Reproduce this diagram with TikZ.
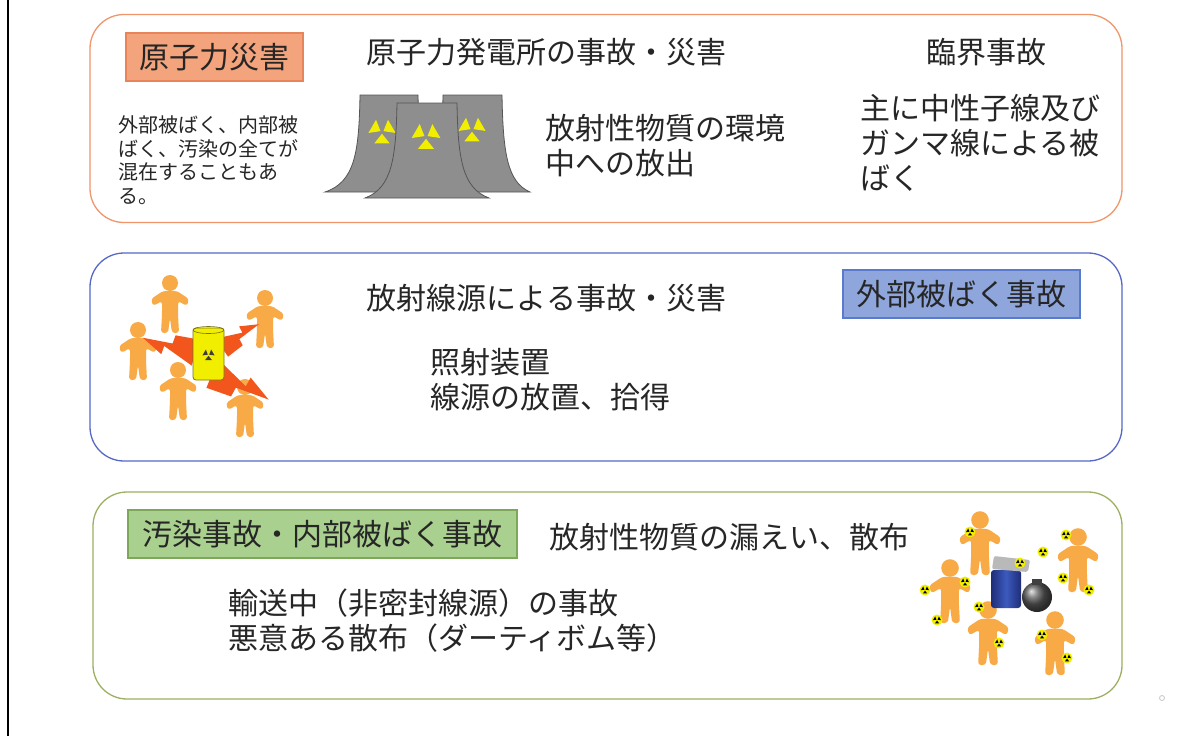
\documentclass[tikz,border=0pt]{standalone}
\usepackage{fontspec}
\setmainfont{Noto Sans CJK JP}
\usetikzlibrary{calc}

\definecolor{ink}{HTML}{262626}
\definecolor{nucline}{HTML}{F0966A}
\definecolor{srcline}{HTML}{5568C8}
\definecolor{conline}{HTML}{9DB060}
\definecolor{nucfill}{HTML}{F4A47C}
\definecolor{nucedge}{HTML}{E8845A}
\definecolor{extfill}{HTML}{8FA6DC}
\definecolor{extedge}{HTML}{5A7ACD}
\definecolor{intfill}{HTML}{A9D08E}
\definecolor{intedge}{HTML}{7DA85A}
\definecolor{towergray}{HTML}{8E8E8E}
\definecolor{toweredge}{HTML}{555555}
\definecolor{radyellow}{HTML}{F2EE00}
\definecolor{skin}{HTML}{F7AA46}
\definecolor{boltred}{HTML}{F2561C}
\definecolor{canblue}{RGB}{30,45,120}
\definecolor{canlight}{RGB}{60,90,190}

% cooling tower: left x, right x, top y, bottom y, flare
\newcommand\coolingtower[5]{%
  \filldraw[fill=towergray, draw=toweredge, line width=0.8pt]
    (#1,#3) -- (#2,#3) .. controls (#2+1,#4-40) and (#2+5,#4-10) .. (#2+#5,#4)
    -- (#1-#5,#4) .. controls (#1-5,#4-10) and (#1-1,#4-40) .. cycle;}

\tikzset{
  panel/.style={draw=#1, line width=1.3pt, rounded corners=34pt, inner sep=0pt,
                minimum width=1032pt, minimum height=208pt},
  tagbox/.style 2 args={fill=#1, draw=#2, line width=1.2pt, inner sep=0pt,
                minimum height=48pt, text=ink, font=\fontsize{30}{35}\selectfont},
  big/.style={inner sep=0pt, text=ink, font=\fontsize{30}{35}\selectfont, align=left},
  small/.style={inner sep=0pt, text=ink, font=\fontsize{20}{23.5}\selectfont, align=left},
  pics/trefoil/.style={code={
    \foreach \a in {90,210,330}{\fill[#1] (\a:2) -- (\a-34:16) -- (\a+34:16) -- cycle;}}},
  pics/person/.style={code={
    \fill[skin] (0,0) circle (8);
    \fill[skin, rounded corners=3pt] (-7,8) -- (-19,16) -- (-17,23) -- (-8,18)
      -- (-8,31) -- (-9,50) -- (-2,50) -- (0,35) -- (2,50) -- (9,50) -- (8,31)
      -- (8,18) -- (17,23) -- (19,16) -- (7,8) -- cycle;}},
  pics/raddot/.style={code={
    \fill[radyellow] (0,0) circle (5.5);
    \foreach \a in {90,210,330}{\fill[black] (\a:0.6) -- (\a-32:4) -- (\a+32:4) -- cycle;}}},
  pics/zap/.style={code={
    \fill[boltred] (0,-0.26) -- (0.58,-0.02) -- (0.6,-0.18) -- (1,0.04) -- (0.44,0.06)
      -- (0.42,0.22) -- (0,0.24) -- cycle;}},
}

\begin{document}
\begin{tikzpicture}[x=1pt,y=-1pt]
\useasboundingbox (0,0) rectangle (1190,736);
\fill[white] (0,0) rectangle (1190,736);
\draw[line width=2pt, black] (8,0) -- (8,736);

% ---------- panels ----------
\node[panel=nucline] (nuc) at (606,118.5) {};
\node[panel=srcline] (src) at (606,357) {};
\node[panel=conline, minimum width=1029pt, minimum height=207pt] (con) at (607.5,595.5) {};

% ---------- nuclear plant panel ----------
\node[tagbox={nucfill}{nucedge}, minimum width=177pt] (tagnuc) at (214.5,57) {原子力災害};
\node[big] (npp) at (546.5,52) {原子力発電所の事故・災害};
\node[big] (crit) at (986.5,52) {臨界事故};
\node[big, anchor=west] (critdesc) at (860,143) {主に中性子線及び\\ガンマ線による被\\ばく};
\node[big, anchor=west] (release) at (545,146) {放射性物質の環境\\中への放出};
\node[small, anchor=west] (mixed) at (118,160) {外部被ばく、内部被\\ばく、汚染の全てが\\混在することもあ\\る。};

\coolingtower{360}{418}{95}{192}{35}
\pic[scale=0.85] at (382,132) {trefoil=radyellow};
\coolingtower{443}{502}{95}{192}{28}
\pic[scale=0.85] at (472,130) {trefoil=radyellow};
\coolingtower{397}{457}{103}{198}{32}
\pic[scale=0.9] at (426,137) {trefoil=radyellow};

% ---------- radiation source panel ----------
\node[big] (srctitle) at (546.5,298) {放射線源による事故・災害};
\node[tagbox={extfill}{extedge}, minimum width=237pt] (tagext) at (961.5,294) {外部被ばく事故};
\node[big, anchor=west] (srcdesc) at (430,379.5) {照射装置\\線源の放置、拾得};

\pic at (170,283) {person};
\pic at (265,298) {person};
\pic at (138,330) {person};
\pic at (178,370) {person};
\pic at (245,387) {person};
\pic[rotate=167, scale=54] at (195,352) {zap};
\pic[rotate=35, scale=44] at (222,348) {zap};
\pic[rotate=-22, scale=62] at (212,374) {zap};
\filldraw[fill=radyellow, draw=olive!80!black, line width=0.8pt, rounded corners=3pt]
  (193,328) rectangle (224,380);
\draw[olive!80!black, line width=0.6pt] (208.5,330) ellipse (15.5 and 3.5);
\pic[scale=0.38] at (208.5,355) {trefoil=black!70!olive};

% ---------- contamination panel ----------
\node[tagbox={intfill}{intedge}, minimum width=389pt] (tagint) at (322.5,534) {汚染事故・内部被ばく事故};
\node[big] (leak) at (729,537) {放射性物質の漏えい、散布};
\node[big, anchor=west] (condesc) at (228,620.5) {輸送中（非密封線源）の事故\\悪意ある散布（ダーティボム等）};

\pic[scale=1.1] at (980,520) {person};
\pic[scale=1.1] at (1078,537) {person};
\pic[scale=1.1] at (950,568) {person};
\pic[scale=1.1] at (988,610) {person};
\pic[scale=1.1] at (1055,620) {person};
\shade[left color=canblue, right color=canblue, middle color=canlight, rounded corners=3pt]
  (991,570) rectangle (1021,608);
\fill[gray!55, rounded corners=2pt] (994,556) -- (1030,560) -- (1028,572) -- (992,569) -- cycle;
\shade[ball color=gray!70!black] (1037,597) circle (15);
\fill[black!75] (1032,579) rectangle (1042,585);
\foreach \x/\y in {970/532,1043/552,1020/563,1066/535,1063/578,1089/590,925/590,
                   965/582,937/620,979/607,999/643,1042/635,1067/658}
  \pic at (\x,\y) {raddot};

\draw[gray!45, line width=0.8pt] (1162,698) circle (2.5);
\end{tikzpicture}
\end{document}
